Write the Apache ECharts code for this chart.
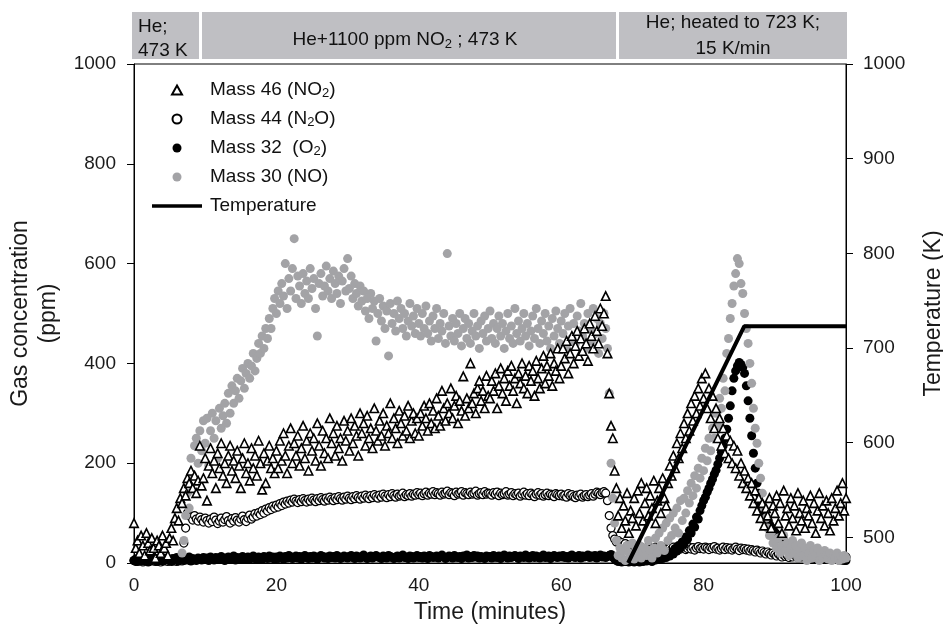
<!DOCTYPE html>
<html><head><meta charset="utf-8">
<script src="https://cdn.jsdelivr.net/npm/echarts@6/dist/echarts.min.js"></script>
<style>html,body{margin:0;padding:0;background:#fff}#c{width:943px;height:626px}</style>
</head><body><div id="c"></div>
<script>
// time grid: minutes, sampled every 0.25 min from 0 to 100
const timeStart = 0, timeStep = 0.25;

// Mass 46 (NO2), ppm
const no2 = [
80,30,45,20,55,35,15,60,40,25, 50,30,10,45,35,20,55,30,40,15, 50,70,45,90,110,85,130,120,150,135, 170,160,185,150,175,140,165,235,155,170,
210,125,195,230,180,205,150,220,190,240, 175,200,160,215,235,185,205,170,225,195, 150,210,240,180,200,165,230,190,215,175, 245,200,147,220,160,205,235,190,210,180,
225,190,245,205,260,215,180,235,270,200, 240,215,255,195,230,275,210,245,185,260, 225,250,205,280,235,195,265,220,250,210, 290,240,260,215,275,230,250,205,285,245,
265,225,290,240,275,255,215,300,260,280, 235,295,250,270,230,310,265,245,285,255, 300,235,275,260,320,250,290,270,240,305, 280,255,295,265,315,250,285,300,260,290,
255,300,275,315,290,265,320,280,305,270, 330,295,275,345,310,285,320,300,350,290, 315,335,280,325,305,374,295,330,310,400, 320,340,300,350,365,325,345,310,375,335,
330,365,345,380,310,355,390,340,370,325, 385,355,395,345,370,320,380,360,400,350, 375,340,395,365,385,335,405,370,350,390, 415,360,395,375,420,355,400,385,430,370,
395,430,410,445,380,420,455,400,435,465, 415,450,425,470,440,405,480,455,430,495, 465,440,510,475,500,535,420,340,275,250, 185,150,95,130,70,115,85,140,60,105,
90,130,75,145,100,160,85,120,150,95, 135,110,165,80,125,150,100,170,130,115, 160,195,175,215,190,240,210,260,230,280, 250,300,265,320,285,335,300,350,315,370,
330,380,310,350,290,335,270,310,250,290, 235,270,220,255,210,245,200,235,190,225, 175,200,160,185,150,170,135,160,120,145, 105,130,90,120,75,110,95,130,70,115,
100,135,80,120,60,145,95,110,75,130, 90,115,65,140,100,85,125,70,110,95, 135,80,120,60,105,140,90,115,75,125, 100,65,130,85,110,145,95,120,160,105,
130];

// Mass 44 (N2O), ppm
const n2o = [
5,3,8,4,6,2,7,5,3,9, 4,6,3,8,5,2,7,4,6,3, 5,8,4,6,3,7,5,4,40,70, 100,95,92,86,95,88,84,92,87,82,
90,85,80,88,83,92,86,79,84,90, 82,87,93,85,80,89,84,91,86,82, 88,94,87,83,90,96,88,92,99,94, 101,97,105,100,108,104,111,107,114,110,
116,112,119,115,122,118,124,120,126,122, 128,124,121,127,123,129,125,122,128,124, 130,126,123,129,125,131,127,124,130,126, 132,128,125,131,127,133,129,126,132,128,
134,130,127,133,129,135,131,128,134,130, 136,132,129,135,131,137,133,130,136,132, 138,134,131,137,133,139,135,132,138,134, 136,140,133,137,135,139,134,138,136,141,
137,140,135,139,142,136,140,138,143,137, 141,139,136,142,138,140,144,137,141,139, 135,142,138,140,143,136,141,139,137,142, 138,140,144,136,139,141,137,143,138,140,
139,136,141,138,142,135,140,137,139,143, 136,138,141,135,139,137,140,134,138,142, 136,139,135,140,137,133,138,141,136,139, 134,137,140,135,138,136,133,139,137,135,
138,134,136,132,139,135,137,133,131,136, 134,138,132,135,137,133,136,139,134,138, 142,140,137,141,143,140,125,95,70,55, 48,42,45,38,41,35,39,33,36,31,
30,33,28,32,27,31,29,26,30,33, 28,25,29,32,27,30,26,29,31,28, 25,30,27,32,29,26,31,28,30,33, 27,29,32,28,31,26,30,33,29,31,
28,32,30,27,31,29,33,28,30,26, 29,32,27,31,28,30,26,29,32,28, 25,30,27,29,26,28,24,27,25,22, 26,23,20,24,21,18,22,19,16,20,
17,14,18,15,12,16,13,15,11,14, 12,16,13,10,14,12,15,11,13,10, 14,12,9,13,11,14,10,12,9,13, 11,10,14,12,9,11,13,10,12,11,
12];

// Mass 32 (O2), ppm
const o2 = [
5,8,3,10,6,4,9,7,2,8, 5,11,6,3,9,7,4,10,6,8, 5,3,9,6,11,4,7,10,5,8, 6,12,4,9,7,5,10,8,6,11,
7,10,5,12,8,6,11,9,7,13, 8,5,10,12,7,9,14,6,11,8, 10,13,7,9,12,8,11,14,9,7, 12,10,8,13,11,9,14,10,12,8,
12,9,14,11,8,13,10,15,12,9, 11,14,10,13,8,12,15,11,9,13, 10,14,12,8,11,15,13,10,12,9, 14,11,13,10,15,12,9,11,14,12,
10,13,15,11,9,14,12,10,13,16, 11,9,12,14,10,13,15,12,11,9, 14,12,10,15,13,11,9,12,14,10, 13,16,11,12,9,14,13,10,12,15,
11,13,10,14,12,9,15,13,11,12, 14,10,13,16,12,9,11,14,13,10, 15,12,11,13,9,14,12,16,10,13, 11,15,12,14,10,13,11,9,14,12,
13,10,15,12,11,14,9,13,16,12, 10,14,11,13,15,12,9,14,13,11, 16,12,10,13,15,11,14,12,10,13, 16,11,12,14,9,13,15,12,11,14,
12,15,11,13,10,14,16,12,11,13, 15,10,14,12,13,16,11,14,12,15, 10,13,16,12,14,11,13,15,17,12, 8,5,3,6,2,5,3,4,2,5,
3,2,5,4,2,6,3,5,4,7, 5,3,8,6,10,7,12,9,15,11, 18,14,22,18,28,24,35,30,42,38, 52,48,65,60,78,72,92,88,105,115,
125,132,142,150,160,168,178,186,198,210, 222,235,250,268,290,315,345,370,385,395, 402,398,392,380,355,325,290,255,220,190, 160,140,120,110,100,90,85,78,72,68,
62,58,55,50,47,44,40,38,35,32, 30,28,26,24,22,21,20,18,17,16, 15,14,13,12,12,11,10,10,9,9, 8,8,8,7,7,7,6,6,6,5,
5];

// Mass 30 (NO), ppm (null = no point shown)
const no = [
null,null,null,null,null,null,null,null,null,null, null,null,null,null,null,null,null,null,null,null, null,null,null,null,null,null,null,20,45,95, 140,110,210,175,235,250,200,265,225,285,
240,290,195,265,300,250,285,210,310,270, 295,320,280,340,300,355,320,345,370,330, 365,390,350,380,400,370,395,420,385,410, 440,420,455,430,470,450,490,470,510,530,
500,545,520,560,535,600,510,570,545,590, 650,530,575,555,520,580,540,565,530,590, 550,570,510,455,560,580,535,555,595,545, 570,530,585,560,540,575,520,565,590,545,
610,550,575,530,560,540,515,555,525,545, 505,530,490,540,510,525,445,500,530,485, 515,470,505,415,520,480,500,465,525,490, 510,470,500,455,485,520,475,495,460,510,
480,455,500,470,515,460,485,445,495,470, 510,450,480,465,500,440,620,475,455,490, 445,480,460,500,435,470,490,450,480,440, 465,500,455,475,430,485,460,495,445,470,
505,450,480,440,470,495,455,480,430,465, 500,450,475,440,510,460,485,445,470,500, 455,480,435,465,495,450,510,470,440,485, 460,500,445,475,430,490,455,505,470,440,
485,460,500,430,475,510,450,480,440,495, 465,520,455,480,430,500,470,445,510,460, 490,420,480,450,500,470,430,340,200,130, 80,45,15,30,10,25,5,35,20,12,
40,8,28,18,35,10,22,30,15,45, 25,10,30,50,20,60,35,70,25,80, 45,90,55,100,70,110,60,125,85,130, 100,145,120,160,135,175,150,190,170,210,
185,230,205,250,225,270,250,300,275,330, 310,370,345,420,450,490,520,555,580,610, 600,560,540,500,470,440,400,360,310,270, 240,200,170,140,110,90,70,55,60,40,
45,30,50,20,35,55,25,40,15,30, 45,20,35,10,25,40,15,30,5,20, 35,10,25,15,30,5,20,10,25,15, 8,20,5,15,10,20,5,12,8,15,
10];

// Temperature (K)
const tempTime = [69.4, 85.7, 100];
const tempK = [473, 723, 723];

const xTicks = [0, 20, 40, 60, 80, 100];
const leftTicks = [0, 200, 400, 600, 800, 1000];
const rightTicks = [500, 600, 700, 800, 900, 1000];

const seriesNames = {
  no2: 'Mass 46 (NO2)', n2o: 'Mass 44 (N2O)', o2: 'Mass 32 (O2)', no: 'Mass 30 (NO)', temp: 'Temperature'
};
const legendLabels = {
  'Mass 46 (NO2)': '{a|Mass 46 (NO}{s|2}{a|)}',
  'Mass 44 (N2O)': '{a|Mass 44 (N}{s|2}{a|O)}',
  'Mass 32 (O2)': '{a|Mass 32  (O}{s|2}{a|)}',
  'Mass 30 (NO)': '{a|Mass 30 (NO)}',
  'Temperature': '{a|Temperature}'
};

[['no2', no2], ['n2o', n2o], ['o2', o2], ['no', no]].forEach(([k, a]) => {
  if (a.length !== 401) throw new Error(k + ' length ' + a.length);
});

function pts(arr) {
  const out = [];
  arr.forEach((v, i) => { if (v !== null) out.push([timeStart + i * timeStep, v]); });
  return out;
}

const FONT = '"Liberation Sans", Arial, Helvetica, sans-serif';
const GRAY = '#a3a3a6';
const BOX = '#bfbfc3';
const TXT = '#1a1a1a';
const plain = v => String(v);

const chart = echarts.init(document.getElementById('c'), null, { renderer: 'canvas' });
chart.setOption({
  animation: false,
  backgroundColor: '#fff',
  textStyle: { fontFamily: FONT },
  grid: { left: 134, right: 97, top: 64, bottom: 63, containLabel: false, outerBoundsMode: 'none',
          show: true, borderColor: '#000', borderWidth: 1, backgroundColor: 'transparent' },
  xAxis: {
    type: 'value', min: xTicks[0], max: xTicks[xTicks.length - 1], interval: 20,
    axisLine: { show: true, lineStyle: { color: '#000', width: 1 } },
    axisTick: { show: false },
    splitLine: { show: false },
    axisLabel: { fontSize: 19, color: TXT, margin: 13, fontFamily: FONT, formatter: plain },
    name: 'Time (minutes)', nameLocation: 'middle', nameGap: 38,
    nameTextStyle: { fontSize: 23, color: TXT, fontFamily: FONT }
  },
  yAxis: [{
    type: 'value', min: leftTicks[0], max: leftTicks[leftTicks.length - 1], interval: 200,
    axisLine: { show: true, lineStyle: { color: '#000', width: 1 } },
    axisTick: { show: true, length: 7, lineStyle: { color: '#000' } },
    splitLine: { show: false },
    axisLabel: { fontSize: 19, color: TXT, margin: 18, fontFamily: FONT, formatter: plain },
    name: 'Gas concentration\n(ppm)', nameLocation: 'middle', nameRotate: 90, nameGap: 70,
    nameTextStyle: { fontSize: 23, lineHeight: 28, color: TXT, fontFamily: FONT }
  }, {
    type: 'value', position: 'right', min: 473, max: 1000,
    axisLine: { show: true, lineStyle: { color: '#000', width: 1 } },
    axisTick: { show: true, length: 7, customValues: rightTicks, lineStyle: { color: '#000' } },
    splitLine: { show: false },
    axisLabel: { fontSize: 19, color: TXT, margin: 17, customValues: rightTicks, fontFamily: FONT, formatter: plain },
    name: 'Temperature (K)', nameLocation: 'middle', nameRotate: 90, nameGap: 74,
    nameTextStyle: { fontSize: 23, lineHeight: 28, color: TXT, fontFamily: FONT }
  }],
  legend: {
    orient: 'vertical', left: 147, top: 75,
    itemWidth: 50, itemHeight: 9, itemGap: 9, symbolKeepAspect: true,
    data: [
      { name: seriesNames.no2, icon: 'path://M5,0L10,9L0,9Z' },
      { name: seriesNames.n2o },
      { name: seriesNames.o2 },
      { name: seriesNames.no },
      { name: seriesNames.temp, icon: 'path://M0,0L50,0L50,3.5L0,3.5Z' }
    ],
    formatter: name => legendLabels[name],
    textStyle: {
      fontFamily: FONT, fontSize: 19, color: '#111', lineHeight: 20, padding: [0, 0, 0, 3],
      rich: {
        a: { fontSize: 19, color: '#111', fontFamily: FONT, lineHeight: 20 },
        s: { fontSize: 13, color: '#111', fontFamily: FONT, lineHeight: 20, verticalAlign: 'bottom' }
      }
    }
  },
  series: [
    { name: seriesNames.n2o, type: 'scatter', data: pts(n2o), symbol: 'circle', symbolSize: 8,
      itemStyle: { color: '#fff', borderColor: '#000', borderWidth: 1.2, opacity: 1 } },
    { name: seriesNames.o2, type: 'scatter', data: pts(o2), symbol: 'circle', symbolSize: 9,
      itemStyle: { color: '#000', opacity: 1 } },
    { name: seriesNames.no, type: 'scatter', data: pts(no), symbol: 'circle', symbolSize: 9,
      itemStyle: { color: GRAY, opacity: 1 } },
    { name: seriesNames.no2, type: 'scatter', data: pts(no2), symbol: 'triangle', symbolSize: 8.5,
      itemStyle: { color: '#fff', borderColor: '#000', borderWidth: 1.6, opacity: 1 } },
    { name: seriesNames.temp, type: 'line', yAxisIndex: 1, symbol: 'none',
      data: tempTime.map((t, i) => [t, tempK[i]]),
      lineStyle: { color: '#000', width: 4 }, itemStyle: { color: '#000' } }
  ],
  graphic: [
    { type: 'rect', shape: { x: 132, y: 12, width: 67, height: 47 }, style: { fill: BOX } },
    { type: 'rect', shape: { x: 202, y: 12, width: 414, height: 47 }, style: { fill: BOX } },
    { type: 'rect', shape: { x: 619, y: 12, width: 228, height: 47 }, style: { fill: BOX } },
    { type: 'text', x: 138, y: 27, style: { text: 'He;', fontSize: 19, fontFamily: FONT, fill: '#111', align: 'left', verticalAlign: 'middle' } },
    { type: 'text', x: 138, y: 51, style: { text: '473 K', fontSize: 19, fontFamily: FONT, fill: '#111', align: 'left', verticalAlign: 'middle' } },
    { type: 'text', x: 405, y: 40, style: {
        text: '{a|He+1100 ppm NO}{s|2}{a| ; 473 K}', align: 'center', verticalAlign: 'middle', fill: '#111',
        rich: {
          a: { fontSize: 19, fontFamily: FONT, fill: '#111', lineHeight: 22 },
          s: { fontSize: 13, fontFamily: FONT, fill: '#111', lineHeight: 22, verticalAlign: 'bottom' }
        } } },
    { type: 'text', x: 733, y: 23, style: { text: 'He; heated to 723 K;', fontSize: 19, fontFamily: FONT, fill: '#111', align: 'center', verticalAlign: 'middle' } },
    { type: 'text', x: 733, y: 49, style: { text: '15 K/min', fontSize: 19, fontFamily: FONT, fill: '#111', align: 'center', verticalAlign: 'middle' } }
  ]
});
</script>
</body></html>
